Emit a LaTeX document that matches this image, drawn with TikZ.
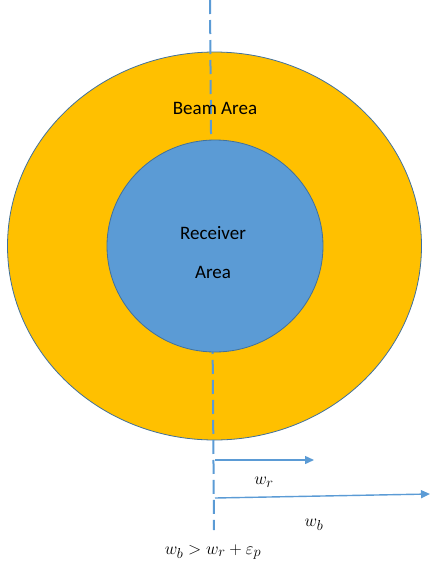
\documentclass[tikz,border=0pt]{standalone}
\usepackage{fontspec}
\setmainfont{Carlito}
\usetikzlibrary{shapes.geometric,arrows.meta}
\definecolor{beamyellow}{HTML}{FFC000}
\definecolor{rxblue}{HTML}{5B9BD5}
\definecolor{rimblue}{HTML}{41719C}
\begin{document}
\begin{tikzpicture}[x=1pt, y=-1pt,
    disc/.style={ellipse, draw=rimblue, line width=0.8pt, inner sep=0pt},
    axisline/.style={draw=rxblue, line width=2pt, dash pattern=on 14pt off 6pt},
    widtharrow/.style={draw=rxblue, line width=1.4pt, -{Triangle[length=9pt,width=8pt]}},
    label/.style={font=\fontsize{19}{22}\selectfont, inner sep=0pt},
    mathlabel/.style={font=\fontsize{19}{22}\selectfont, inner sep=0pt}]
    \useasboundingbox (0,0) rectangle (430,571);

    \node[disc, fill=beamyellow, minimum width=414pt, minimum height=388pt] (beam) at (214.5,246) {};
    \coordinate (top) at (210,0);
    \coordinate (bottom) at (214,530);
    \draw[axisline] (top) -- (bottom);
    \node[disc, fill=rxblue, minimum width=216pt, minimum height=212pt] (receiver) at (215,246) {};

    \node[label] (beamtext) at (215,108) {Beam Area};
    \node[label] (rxtext1) at (213,233) {Receiver};
    \node[label] (rxtext2) at (213,272) {Area};

    \coordinate (wrstart) at (215,460);
    \coordinate (wrend) at (314,460);
    \coordinate (wbstart) at (215,498);
    \coordinate (wbend) at (430,494);
    \draw[widtharrow] (wrstart) -- (wrend);
    \draw[widtharrow] (wbstart) -- (wbend);

    \node[mathlabel] (wr) at (264,482) {$w_r$};
    \node[mathlabel] (wb) at (314,525) {$w_b$};
    \node[mathlabel] (cond) at (213,552) {$w_b > w_r + \varepsilon_p$};
\end{tikzpicture}
\end{document}
